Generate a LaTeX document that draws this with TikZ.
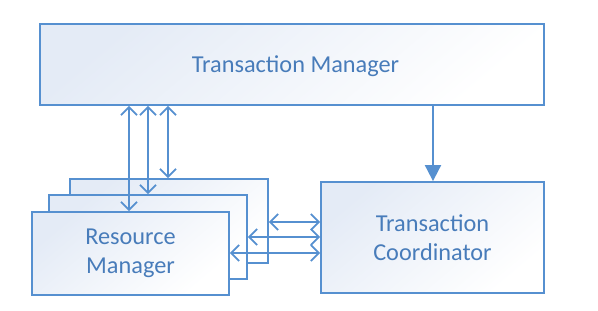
\documentclass[tikz,border=0pt]{standalone}
\usepackage{fontspec}
\setmainfont{Carlito}
\usetikzlibrary{arrows.meta}
\definecolor{linec}{RGB}{86,144,208}
\definecolor{textc}{RGB}{72,124,186}
\definecolor{fillc}{RGB}{228,235,246}
\tikzset{
  box/.style={draw=linec, line width=1.8pt, rectangle, inner sep=0pt,
    top color=fillc, bottom color=white, shading angle=40,
    text=textc, font=\fontsize{24.3}{28.5}\selectfont, align=center},
  dbl/.style={draw=linec, line width=1.9pt,
    {Straight Barb[length=8pt,width=16pt,line width=1.8pt]}-{Straight Barb[length=8pt,width=16pt,line width=1.8pt]}},
  single/.style={draw=linec, line width=1.9pt, -{Triangle[length=16pt,width=16pt]}}
}
\begin{document}
\begin{tikzpicture}[x=1pt,y=-1pt]
\useasboundingbox (0,0) rectangle (598,311);
\fill[white] (0,0) rectangle (598,311);
% Transaction Manager
\node[box, minimum width=504pt, minimum height=81pt] (tm) at (292,64.5) {};
\node[text=textc, font=\fontsize{24.3}{28.5}\selectfont, inner sep=0pt] (tml) at (295.5,66) {Transaction Manager};
% Resource managers (stacked)
\node[box, minimum width=198pt, minimum height=84pt] (rmb) at (169,221) {};
\node[box, minimum width=198pt, minimum height=84pt] (rmm) at (148,237) {};
\node[box, minimum width=197pt, minimum height=83pt] (rmf) at (130.5,253.5) {Resource\\Manager};
% Transaction Coordinator
\node[box, minimum width=223pt, minimum height=111pt] (tc) at (432.5,237.5) {Transaction\\Coordinator};
% helper coordinates
\coordinate (v1) at (129,0);
\coordinate (v2) at (148,0);
\coordinate (v3) at (168,0);
\coordinate (v4) at (433,0);
\coordinate (h1) at (0,222);
\coordinate (h2) at (0,237);
\coordinate (h3) at (0,253);
% vertical arrows
\draw[dbl] (v1 |- tm.south) -- (v1 |- rmf.north);
\draw[dbl] (v2 |- tm.south) -- (v2 |- rmm.north);
\draw[dbl] (v3 |- tm.south) -- (v3 |- rmb.north);
\draw[single] (v4 |- tm.south) -- (v4 |- tc.north);
% horizontal arrows
\draw[dbl] (rmb.east |- h1) -- (tc.west |- h1);
\draw[dbl] (rmm.east |- h2) -- (tc.west |- h2);
\draw[dbl] (rmf.east |- h3) -- (tc.west |- h3);
\end{tikzpicture}
\end{document}
